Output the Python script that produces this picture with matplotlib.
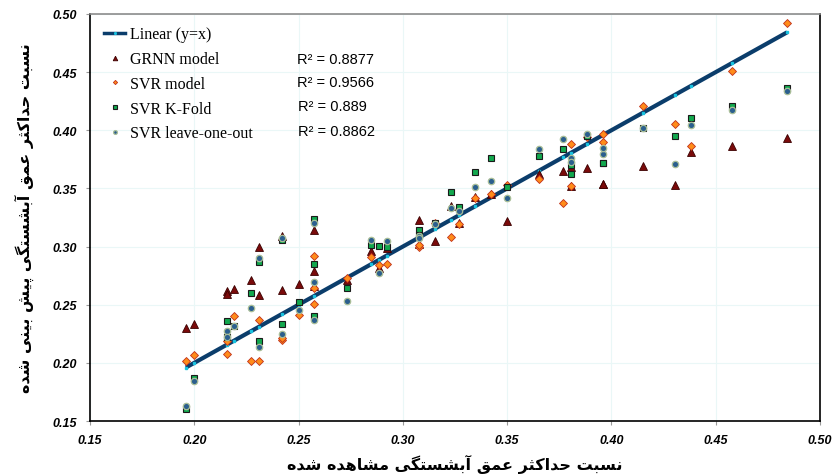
import numpy as np
import matplotlib
matplotlib.use('Agg')
import matplotlib.pyplot as plt

observed = [0.196, 0.200, 0.2155, 0.2155, 0.219, 0.227, 0.231, 0.231, 0.242, 0.242,
            0.250, 0.2576, 0.2576, 0.2576, 0.273, 0.2846, 0.2884, 0.2922, 0.3076, 0.3076,
            0.3153, 0.3231, 0.3269, 0.3346, 0.3423, 0.350, 0.3651, 0.3767, 0.3806, 0.3806,
            0.3882, 0.3959, 0.3959, 0.415, 0.4307, 0.4382, 0.4577, 0.4843]
grnn = [0.230, 0.233, 0.262, 0.259, 0.2635, 0.271, 0.300, 0.258, 0.309, 0.263,
        0.268, 0.3146, 0.2793, 0.266, 0.271, 0.2962, 0.2816, 0.299, 0.323, 0.3025,
        0.3048, 0.3347, 0.3203, 0.3426, 0.3455, 0.3223, 0.3624, 0.3653, 0.3685, 0.352,
        0.3673, 0.3535, 0.3535, 0.3697, 0.3532, 0.3811, 0.3868, 0.3934]
svr = [0.202, 0.2065, 0.219, 0.208, 0.240, 0.202, 0.237, 0.202, 0.220, 0.221,
       0.2414, 0.2916, 0.2641, 0.2504, 0.2727, 0.291, 0.2845, 0.285, 0.300, 0.301,
       0.3205, 0.3082, 0.3192, 0.3418, 0.345, 0.353, 0.3581, 0.3372, 0.3882, 0.3523,
       0.394, 0.3968, 0.3897, 0.4212, 0.4057, 0.3868, 0.4507, 0.4923]
kfold = [0.160, 0.187, 0.236, 0.222, 0.232, 0.260, 0.287, 0.2185, 0.306, 0.233,
         0.2523, 0.3237, 0.2848, 0.240, 0.2641, 0.3011, 0.3008, 0.2997, 0.314, 0.310,
         0.320, 0.3473, 0.3338, 0.3641, 0.376, 0.3513, 0.3777, 0.3839, 0.3704, 0.3624,
         0.395, 0.3718, 0.3718, 0.402, 0.3949, 0.4103, 0.4209, 0.4361]
loo = [0.163, 0.184, 0.227, 0.222, 0.232, 0.247, 0.290, 0.214, 0.307, 0.2246,
       0.2455, 0.3203, 0.2698, 0.2368, 0.2532, 0.3054, 0.277, 0.3048, 0.309, 0.3075,
       0.3195, 0.333, 0.3304, 0.351, 0.3564, 0.3416, 0.3839, 0.3925, 0.376, 0.373,
       0.397, 0.3796, 0.3845, 0.402, 0.371, 0.4046, 0.4177, 0.4335]
r2_labels = ['R² = 0.8877', 'R² = 0.9566', 'R² = 0.889', 'R² = 0.8862']

x_label = 'نسبت حداکثر عمق آبشستگی مشاهده شده'
y_label = 'نسبت حداکثر عمق آبشستگی پیش بینی شده'

# minimal Persian shaping (matplotlib has no bidi / joining)
FORMS = {
    'ن': (0xFEE5, 0xFEE6, 0xFEE7, 0xFEE8), 'س': (0xFEB1, 0xFEB2, 0xFEB3, 0xFEB4),
    'ب': (0xFE8F, 0xFE90, 0xFE91, 0xFE92), 'ت': (0xFE95, 0xFE96, 0xFE97, 0xFE98),
    'ح': (0xFEA1, 0xFEA2, 0xFEA3, 0xFEA4), 'د': (0xFEA9, 0xFEAA, None, None),
    'ا': (0xFE8D, 0xFE8E, None, None), 'ک': (0xFB8E, 0xFB8F, 0xFB90, 0xFB91),
    'ث': (0xFE99, 0xFE9A, 0xFE9B, 0xFE9C), 'ر': (0xFEAD, 0xFEAE, None, None),
    'ع': (0xFEC9, 0xFECA, 0xFECB, 0xFECC), 'م': (0xFEE1, 0xFEE2, 0xFEE3, 0xFEE4),
    'ق': (0xFED5, 0xFED6, 0xFED7, 0xFED8), 'آ': (0xFE81, 0xFE82, None, None),
    'ش': (0xFEB5, 0xFEB6, 0xFEB7, 0xFEB8), 'گ': (0xFB92, 0xFB93, 0xFB94, 0xFB95),
    'ی': (0xFBFC, 0xFBFD, 0xFBFE, 0xFBFF), 'ه': (0xFEE9, 0xFEEA, 0xFEEB, 0xFEEC),
    'پ': (0xFB56, 0xFB57, 0xFB58, 0xFB59),
}

def shape(text):
    out = []
    for i, ch in enumerate(text):
        if ch not in FORMS:
            out.append(ch)
            continue
        f = FORMS[ch]
        prev = text[i - 1] if i > 0 else ''
        nxt = text[i + 1] if i + 1 < len(text) else ''
        pj = prev in FORMS and FORMS[prev][2] is not None
        nj = nxt in FORMS and f[2] is not None
        if pj and nj:
            out.append(chr(f[3]))
        elif pj:
            out.append(chr(f[1]))
        elif nj:
            out.append(chr(f[2]))
        else:
            out.append(chr(f[0]))
    return ''.join(out)[::-1]

fig = plt.figure(figsize=(8.33, 4.77), dpi=100)
ax = fig.add_axes([0.108, 0.1153, 0.8764, 0.8533])

line_x = [observed[0], observed[-1]]
ax.plot(line_x, line_x, color='#0B3D6B', lw=3, zorder=2, solid_capstyle='butt')
ax.plot(sorted(set(observed)), sorted(set(observed)), ls='none', marker='s', ms=1.5,
        color='#19C3E0', zorder=2.1)
h_lin, = ax.plot([], [], color='#0B3D6B', lw=2.5, marker='s', ms=1.8,
                 mfc='#19C3E0', mec='#19C3E0', label='Linear (y=x)')

h_g, = ax.plot(observed, grnn, ls='none', marker='^', ms=5.5, mfc='#7A0A0A',
               mec='#3A0000', mew=0.6, label='GRNN model', zorder=3)
h_s, = ax.plot(observed, svr, ls='none', marker='D', ms=3.6, mfc='#FF8C1A',
               mec='#C0301A', mew=0.6, label='SVR model', zorder=3)
h_k, = ax.plot(observed, kfold, ls='none', marker='s', ms=5, mfc='#12A84E',
               mec='#1A1A1A', mew=0.8, label='SVR K-Fold', zorder=3)
h_l, = ax.plot(observed, loo, ls='none', marker='o', ms=4.6, mfc='#2B5F8E',
               mec='#A9BE98', mew=0.9, label='SVR leave-one-out', zorder=3)

ax.set_xlim(0.15, 0.50)
ax.set_ylim(0.15, 0.50)
ticks = np.arange(0.15, 0.501, 0.05)
ax.set_xticks(ticks)
ax.set_yticks(ticks)
ax.set_xticklabels(['%.2f' % t for t in ticks])
ax.set_yticklabels(['%.2f' % t for t in ticks])
for lab in ax.get_xticklabels() + ax.get_yticklabels():
    lab.set_fontfamily('Liberation Sans')
    lab.set_fontweight('bold')
    lab.set_fontstyle('italic')
    lab.set_fontsize(9)
ax.tick_params(length=3, color='#999999', pad=6)
ax.grid(True, color='#EAF7F7', lw=0.8)
ax.set_axisbelow(True)

for s in ['left', 'bottom', 'right']:
    ax.spines[s].set_color('black')
    ax.spines[s].set_linewidth(1.2)
ax.spines['top'].set_color('#8C8C8C')
ax.spines['top'].set_linewidth(1.2)

leg = ax.legend(handles=[h_lin, h_g, h_s, h_k, h_l], loc='upper left',
                bbox_to_anchor=(0.0, 1.005), frameon=False, handlelength=1.3,
                handletextpad=0.3, labelspacing=0.55, markerscale=0.6,
                prop={'family': 'Liberation Serif', 'size': 11.5})

r2_y = [0.8905, 0.834, 0.774, 0.7115]
r2_x = [0.2835, 0.2835, 0.285, 0.285]
for lab, xx, yy in zip(r2_labels, r2_x, r2_y):
    ax.text(xx, yy, lab, transform=ax.transAxes, fontsize=10.5,
            family='Liberation Sans', va='center')

ax.set_xlabel(shape(x_label), family='DejaVu Sans', fontweight='bold', fontsize=11.5,
              labelpad=6)
ax.set_ylabel(shape(y_label), family='DejaVu Sans', fontweight='bold', fontsize=11.5,
              labelpad=14)

fig.savefig('out.png', dpi=100)
